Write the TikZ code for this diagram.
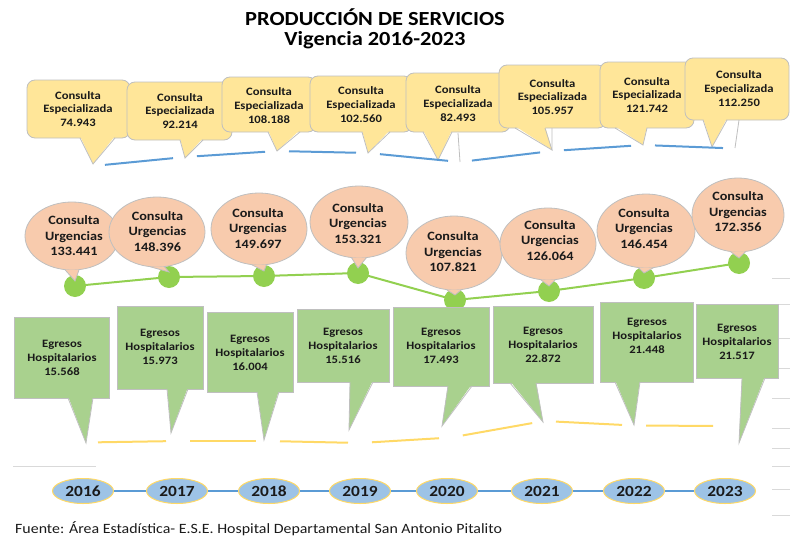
\documentclass[tikz,border=0pt]{standalone}
\usepackage{fontspec}
\setmainfont{Carlito}[FakeStretch=1.12]
\usetikzlibrary{shapes.geometric}
\definecolor{yfill}{HTML}{FFE699}
\definecolor{ofill}{HTML}{F8CBAD}
\definecolor{gfill}{HTML}{A9D18E}
\definecolor{gdot}{HTML}{92D050}
\definecolor{bord}{HTML}{BFBFBF}
\definecolor{bline}{HTML}{5B9BD5}
\definecolor{yline}{HTML}{FFD966}
\definecolor{yrfill}{HTML}{9DC3E6}
\definecolor{txt}{HTML}{1A1A1A}
\definecolor{grid}{HTML}{D9D9D9}
\begin{document}
\begin{tikzpicture}[x=1pt,y=-1pt,
  espbox/.style={draw=bord, fill=yfill, rounded corners=8pt, line width=0.8pt, inner sep=0pt, outer sep=0pt},
  egrbox/.style={draw=bord, fill=gfill, line width=0.8pt, inner sep=0pt, outer sep=0pt},
  urgbox/.style={ellipse, draw=bord, fill=ofill, line width=0.8pt, inner sep=0pt, outer sep=0pt},
  bordline/.style={draw=bord, line width=0.8pt},
  esptxt/.style={align=center, text=txt, inner sep=0pt, font=\fontsize{11.3}{13.7}\selectfont\bfseries},
  urgtxt/.style={align=center, text=txt, inner sep=0pt, font=\fontsize{12.7}{15.5}\selectfont\bfseries},
  egrtxt/.style={align=center, text=txt, inner sep=0pt, font=\fontsize{11.3}{14}\selectfont\bfseries},
  gdotnode/.style={circle, fill=gdot, minimum size=22pt, inner sep=0pt},
  yearnode/.style={ellipse, draw=yline, fill=yrfill, line width=1pt, minimum width=61pt, minimum height=25pt, inner sep=0pt, font=\fontsize{15.5}{18}\selectfont\bfseries, text=txt},
  btrend/.style={draw=bline, line width=2pt, shorten <=12pt, shorten >=12pt},
  ytrend/.style={draw=yline, line width=2pt, shorten <=12pt, shorten >=12pt},
  gridline/.style={draw=grid, line width=0.8pt},
  titletxt/.style={inner sep=0pt, font=\fontsize{20}{24}\selectfont\bfseries}
]
\useasboundingbox (0,0) rectangle (790,538);

% title
\node[titletxt] (t1) at (375,17) {PRODUCCIÓN DE SERVICIOS};
\node[titletxt] (t2) at (375,40) {Vigencia 2016-2023};

% grid fragments
\coordinate (gl1) at (13,466); \coordinate (gl2) at (96,466);
\draw[gridline] (gl1) -- (gl2);
\foreach \yy [count=\k] in {278,304,338,368,398,428,448,466,489,515}{
  \coordinate (ga\k) at (772,\yy); \coordinate (gb\k) at (790,\yy);
  \draw[gridline] (ga\k) -- (gb\k);
}

% Consulta Especializada callouts
\foreach \i/\cx/\cy/\w/\h/\ax/\bx/\tx/\ty/\txx/\txy/\v in {
 1/78.5/109/103/58/80/115/93/164/78/109/74.943,
 2/179.5/111/105/58/180/203/185/158/180/111/92.214,
 3/269/104.5/94/55/268/300/277/151/269/105.5/108.188,
 4/361/104/102/56/362/390/368/153/361/104.5/102.560,
 5/458/102.5/104/59/423/452/438/160/458/103.5/82.493,
 6/552.5/96.5/107/63/515/545/552/150/552.5/97/105.957,
 7/647/95/94/66/615/647/643/145/647/95/121.742,
 8/737/89/104/62/703/727/712/147/739/88.5/112.250}{
  \node[espbox, minimum width=\w pt, minimum height=\h pt] (e\i) at (\cx,\cy) {};
  \coordinate (et\i) at (\tx,\ty);
  \fill[yfill] (\ax,{\cy+\h/2-2}) -- (et\i) -- (\bx,{\cy+\h/2-2}) -- cycle;
  \draw[bordline] (\ax,{\cy+\h/2}) -- (et\i) -- (\bx,{\cy+\h/2});
  \node[esptxt] (e\i t) at (\txx,\txy) {Consulta\\Especializada\\\v};
}
% leader lines
\coordinate (la1) at (458,133); \coordinate (lb1) at (460,162);
\coordinate (la2) at (739,120); \coordinate (lb2) at (735,148);
\coordinate (la3) at (552,128); \coordinate (lb3) at (552,150);
\draw[bordline] (la1) -- (lb1) (la2) -- (lb2) (la3) -- (lb3);

% blue trend
\foreach \k/\px/\py in {1/93/166,2/185/157,3/277/151,4/368/153,5/460/162,6/552/151,7/643/145,8/735/148.5}
  \coordinate (p\k) at (\px,\py);
\foreach \a/\b in {1/2,2/3,3/4,4/5,5/6,6/7,7/8}
  \draw[btrend] (p\a) -- (p\b);

% green line and dots
\foreach \k/\dx/\dy in {1/75/286,2/169/277,3/264/276,4/358/273,5/455/300,6/549/291,7/644/278,8/739/263}
  \coordinate (d\k) at (\dx,\dy);
\draw[gdot, line width=2pt] (d1) -- (d2) -- (d3) -- (d4) -- (d5) -- (d6) -- (d7) -- (d8);
\foreach \k in {1,...,8}
  \node[gdotnode] (dn\k) at (d\k) {};

% Consulta Urgencias callouts
\foreach \i/\cx/\cy/\rx/\ry/\txx/\txy/\v in {
 1/72/236/47/34/74/236/133.441,
 2/157/232/48/35/157.5/231.5/148.396,
 3/259/229/48/36/258/228.5/149.697,
 4/359/222/49/36/358/223.5/153.321,
 5/454/253/48/37/453/252/107.821,
 6/548/244/48/36/550/240.5/126.064,
 7/646/231/49/37/644/228.5/146.454,
 8/738/215/46/37/738/212/172.356}{
  \node[urgbox, minimum width=2*\rx pt, minimum height=2*\ry pt] (u\i) at (\cx,\cy) {};
  \coordinate (ut\i) at ([yshift=5pt]dn\i.center);
  \fill[ofill] (u\i.258) -- (ut\i) -- (u\i.282) -- cycle;
  \draw[bordline] (u\i.258) -- (ut\i) -- (u\i.282);
  \node[urgtxt] (u\i t) at (\txx,\txy) {Consulta\\Urgencias\\\v};
}

% Egresos Hospitalarios callouts
\foreach \i/\cx/\cy/\w/\h/\ax/\bx/\tx/\ty/\txx/\txy/\v in {
 1/61.5/357.5/95/81/68/93/86/443/62/358/15.568,
 2/160/347.5/86/83/167/188/171/433/160/347/15.973,
 3/250/352/86/80/257/279/264/440/250/353/16.004,
 4/343/345.5/92/73/350/373/349/430/343/346/15.516,
 5/441/346.5/96/79/448/472/442/426/441/346/17.493,
 6/543/344.5/100/77/510/536/543/422/543/345/22.872,
 7/646.5/342/93/80/615/640/634/425/647/336/21.448,
 8/737/341/82/74/742/765/739/443/737/342/21.517}{
  \node[egrbox, minimum width=\w pt, minimum height=\h pt] (g\i) at (\cx,\cy) {};
  \coordinate (gt\i) at (\tx,\ty);
  \fill[gfill] (\ax,{\cy+\h/2-2}) -- (gt\i) -- (\bx,{\cy+\h/2-2}) -- cycle;
  \draw[bordline] (\ax,{\cy+\h/2}) -- (gt\i) -- (\bx,{\cy+\h/2});
  \node[egrtxt] (g\i t) at (\txx,\txy) {Egresos\\Hospitalarios\\\v};
}

% yellow trend
\foreach \k/\qx/\qy in {1/86/442.5,2/178/441,3/268/441,4/360/443,5/451/437.5,6/544/421,7/634/425.5,8/725/426}
  \coordinate (q\k) at (\qx,\qy);
\foreach \a/\b in {1/2,2/3,3/4,4/5,5/6,6/7,7/8}
  \draw[ytrend] (q\a) -- (q\b);

% years
\foreach \k/\yx in {1/83,2/177,3/269,4/360,5/447,6/542,7/634,8/725}
  \coordinate (y\k) at (\yx,491);
\draw[bline, line width=1.5pt] (y1) -- (y8);
\foreach \k/\yr in {1/2016,2/2017,3/2018,4/2019,5/2020,6/2021,7/2022,8/2023}
  \node[yearnode] (yn\k) at (y\k) {\yr};

% footer
\node[anchor=west, inner sep=0pt, text=txt, font=\fontsize{14.2}{17}\selectfont] (src) at (15,529) {Fuente: Área Estadística- E.S.E. Hospital Departamental San Antonio Pitalito};
\end{tikzpicture}
\end{document}
